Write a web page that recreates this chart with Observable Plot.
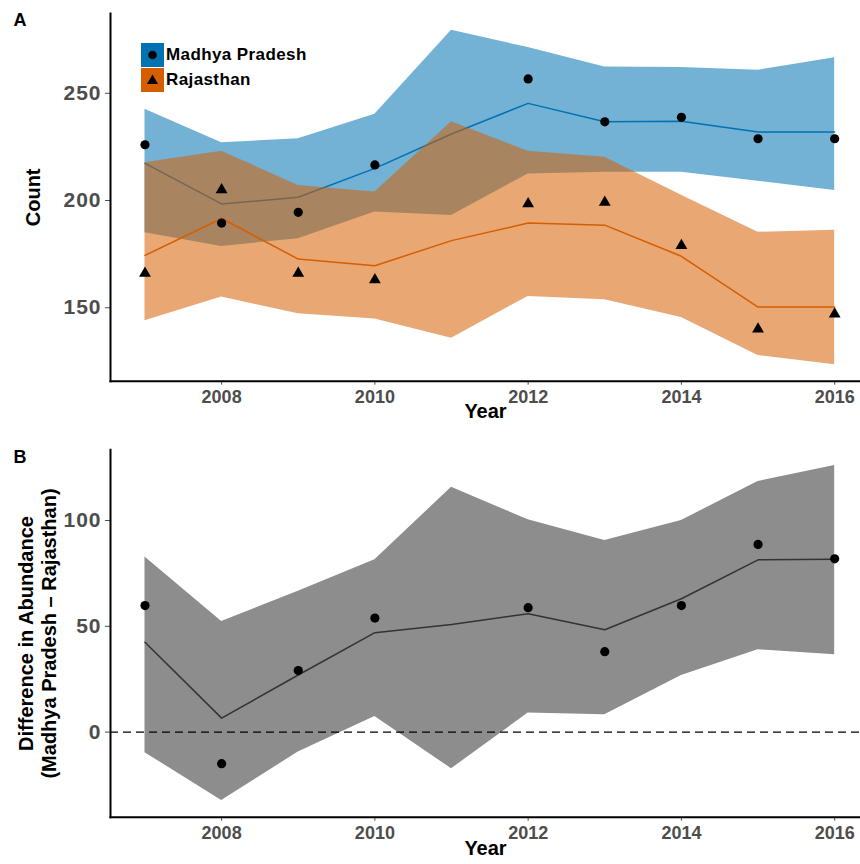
<!DOCTYPE html>
<html>
<head>
<meta charset="utf-8">
<script src="https://cdn.jsdelivr.net/npm/d3@7"></script>
<script src="https://cdn.jsdelivr.net/npm/@observablehq/plot@0.6"></script>
<style>
  body { margin: 0; background: #fff; font-family: "Liberation Sans", Arial, sans-serif; }
  #wrap { position: relative; width: 860px; height: 864px; overflow: hidden; background: #fff; }
  .panel { position: absolute; left: 0; }
  .panel svg { display: block; }
  g[aria-label="y-axis tick label"] text { letter-spacing: 1px; }
  .leg { position: absolute; left: 141px; display: flex; align-items: center; height: 24px; }
  .key { width: 23px; height: 24px; position: relative; }
  .key svg { position: absolute; left: 0; top: 0; }
  .lab { font-weight: bold; font-size: 17px; letter-spacing: 0.4px; margin-left: 2px; color: #000; }
</style>
</head>
<body>
<div id="wrap">
  <div class="panel" id="pa" style="top:0"></div>
  <div class="panel" id="pb" style="top:430px"></div>
  <div class="leg" style="top:43px">
    <div class="key" style="background:#0072B2"><svg width="23" height="24"><circle cx="11.5" cy="12" r="4.3" fill="#000"/></svg></div>
    <span class="lab">Madhya Pradesh</span>
  </div>
  <div class="leg" style="top:68px">
    <div class="key" style="background:#D55E00"><svg width="23" height="24"><path d="M11.5,6.5 L17,16 L6,16 Z" fill="#000"/></svg></div>
    <span class="lab">Rajasthan</span>
  </div>
</div>
<script>
// ---- data ----
const years  = [2007, 2008, 2009, 2010, 2011, 2012, 2013, 2014, 2015, 2016];
const xTicks = [2008, 2010, 2012, 2014, 2016];

// Panel A: counts
const mpObs = [226, 189.5, 194.5, 216.6, null, 256.7, 236.7, 238.8, 228.8, 228.8];
const mpFit = [217.3, 198.4, 201.5, 215, 231, 245.3, 236.7, 237, 232, 232];
const mpLo  = [185, 178.6, 182.2, 194.7, 193, 212.4, 213.2, 213.2, 209, 204.7];
const mpHi  = [242.5, 226.9, 228.8, 240.2, 279.4, 271.3, 262.3, 262, 260.7, 266.6];

const rjObs = [166, 205, 166, 163, null, 198.4, 199.2, 179, 140, 147];
const rjFit = [174.4, 191.6, 172.7, 169.6, 181.3, 189.5, 188.5, 174, 150.3, 150.3];
const rjLo  = [143.9, 155, 147.2, 144.7, 135.8, 155.3, 153.7, 145.5, 127.7, 123.4];
const rjHi  = [217.6, 223, 207, 204, 236.7, 223, 220.2, 202.5, 185.2, 186.1];

const yTicksA = [150, 200, 250];

// Panel B: difference
const diffObs = [59.8, -14.9, 29.1, 53.9, null, 58.8, 38, 59.8, 88.7, 81.9];
const diffFit = [42.5, 6.6, 27, 47, 50.9, 55.9, 48.4, 63, 81.4, 81.7];
const diffLo  = [-9.7, -32.3, -9.4, 7.4, -17.3, 9, 8.2, 26.8, 38.9, 36.6];
const diffHi  = [82.7, 52.3, 66.6, 81.4, 115.7, 100.3, 90.6, 100, 118.4, 126];

const yTicksB = [0, 50, 100];

// ---- tables ----
const rowsA = years.map((year, i) => ({
  year, mpObs: mpObs[i], mpFit: mpFit[i], mpLo: mpLo[i], mpHi: mpHi[i],
  rjObs: rjObs[i], rjFit: rjFit[i], rjLo: rjLo[i], rjHi: rjHi[i]
}));
const rowsB = years.map((year, i) => ({
  year, obs: diffObs[i], fit: diffFit[i], lo: diffLo[i], hi: diffHi[i]
}));

const FONT = "'Liberation Sans', Arial, sans-serif";
const xDomain = [2006.55, 2016.337];
const TICK = "#4d4d4d";

const plotA = Plot.plot({
  width: 860, height: 430,
  marginLeft: 110, marginRight: 0, marginTop: 13, marginBottom: 49.3,
  style: { fontFamily: FONT, background: "white", overflow: "visible" },
  x: { domain: xDomain },
  y: { domain: [115.75, 287.2] },
  marks: [
    Plot.areaY(rowsA, { x: "year", y1: "mpLo", y2: "mpHi", fill: "#0072B2", fillOpacity: 0.55 }),
    Plot.line(rowsA, { x: "year", y: "mpFit", stroke: "#0072B2", strokeWidth: 1.5 }),
    Plot.areaY(rowsA, { x: "year", y1: "rjLo", y2: "rjHi", fill: "#D55E00", fillOpacity: 0.55 }),
    Plot.line(rowsA, { x: "year", y: "rjFit", stroke: "#D55E00", strokeWidth: 1.5 }),
    Plot.dot(rowsA.filter(d => d.mpObs != null), { x: "year", y: "mpObs", r: 4.6, fill: "black", symbol: "circle" }),
    Plot.dot(rowsA.filter(d => d.rjObs != null), { x: "year", y: "rjObs", r: 4.4, fill: "black", symbol: "triangle" }),
    Plot.axisY({ ticks: yTicksA, tickSize: 5, tickPadding: 4, fontSize: 21, fontWeight: "bold", color: TICK, label: null }),
    Plot.axisX({ ticks: xTicks, tickSize: 4, tickPadding: 5, tickFormat: "d", fontSize: 18, fontWeight: "bold", color: TICK, label: null }),
    Plot.frame({ anchor: "left", stroke: "black", strokeWidth: 2 }),
    Plot.frame({ anchor: "bottom", stroke: "black", strokeWidth: 2 }),
    Plot.text(["Year"], { text: d => d, frameAnchor: "bottom", dy: 37, fontSize: 20, fontWeight: "bold", fill: "black" }),
    Plot.text(["Count"], { text: d => d, frameAnchor: "left", textAnchor: "middle", dx: -77, rotate: -90, fontSize: 20, fontWeight: "bold", fill: "black" }),
    Plot.text(["A"], { text: d => d, frameAnchor: "top-left", textAnchor: "start", dx: -97, dy: 0, fontSize: 18, fontWeight: "bold", fill: "black" })
  ]
});
document.getElementById("pa").appendChild(plotA);

const plotB = Plot.plot({
  width: 860, height: 434,
  marginLeft: 110, marginRight: 0, marginTop: 19.3, marginBottom: 47.3,
  style: { fontFamily: FONT, background: "white", overflow: "visible" },
  x: { domain: xDomain },
  y: { domain: [-40.2, 133.4] },
  marks: [
    Plot.areaY(rowsB, { x: "year", y1: "lo", y2: "hi", fill: "#8d8d8d" }),
    Plot.ruleY([0], { stroke: "black", strokeWidth: 1.4, strokeDasharray: "8,5" }),
    Plot.line(rowsB, { x: "year", y: "fit", stroke: "#333", strokeWidth: 1.5 }),
    Plot.dot(rowsB.filter(d => d.obs != null), { x: "year", y: "obs", r: 4.6, fill: "black" }),
    Plot.axisY({ ticks: yTicksB, tickSize: 5, tickPadding: 4, fontSize: 21, fontWeight: "bold", color: TICK, label: null }),
    Plot.axisX({ ticks: xTicks, tickSize: 4, tickPadding: 5, tickFormat: "d", fontSize: 18, fontWeight: "bold", color: TICK, label: null }),
    Plot.frame({ anchor: "left", stroke: "black", strokeWidth: 2 }),
    Plot.frame({ anchor: "bottom", stroke: "black", strokeWidth: 2 }),
    Plot.text(["Year"], { text: d => d, frameAnchor: "bottom", dy: 38, fontSize: 20, fontWeight: "bold", fill: "black" }),
    Plot.text(["Difference in Abundance\n(Madhya Pradesh – Rajasthan)"], { text: d => d, frameAnchor: "left", textAnchor: "middle", dx: -73.5, rotate: -90, lineHeight: 1.15, fontSize: 20, fontWeight: "bold", fill: "black" }),
    Plot.text(["B"], { text: d => d, frameAnchor: "top-left", textAnchor: "start", dx: -97, dy: 0, fontSize: 18, fontWeight: "bold", fill: "black" })
  ]
});
document.getElementById("pb").appendChild(plotB);
</script>
</body>
</html>
